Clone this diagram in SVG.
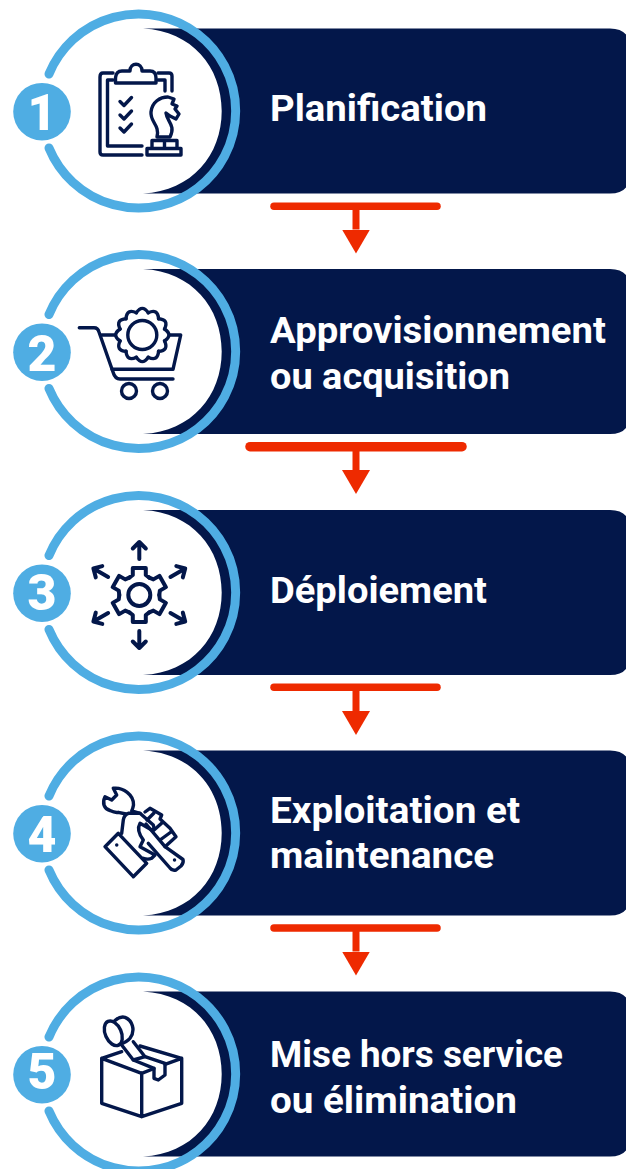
<svg xmlns="http://www.w3.org/2000/svg" width="626" height="1169" viewBox="0 0 626 1169">
<style>
.bar{fill:#03174a}
.ring{fill:none;stroke:#4fade3;stroke-width:9;stroke-linecap:round}
.dot{fill:#4fade3}
.num{font-family:"Roboto","Liberation Sans",sans-serif;font-weight:900;font-size:50px;fill:#fff;text-anchor:middle}
.lbl{font-family:"Roboto","Liberation Sans",sans-serif;font-weight:700;font-size:37px;fill:#fff}
.ic{fill:none;stroke:#03174a;stroke-width:3.4;stroke-linecap:round;stroke-linejoin:round}
.ic3{stroke-width:4}
.rule{stroke:#ee2a00;stroke-width:7.5;stroke-linecap:round}
.rule2{stroke:#ee2a00;stroke-width:9.5;stroke-linecap:round}
.stem{stroke:#ee2a00;stroke-width:7;marker-end:url(#head)}
</style>
<defs>
<marker id="head" markerUnits="userSpaceOnUse" markerWidth="24" markerHeight="28" refX="0" refY="14" orient="auto"><path d="M0 0L24 14L0 28Z" fill="#ee2a00"/></marker>
<g id="base">
<path class="bar" d="M143 -82.5H610Q630 -82.5 630 -62.5V62.5Q630 82.5 610 82.5H143C192 80 221.7 44 221.7 0C221.7 -44 192 -80 143 -82.5Z"/>
<path class="ring" d="M49 -37A97 97 0 1 1 49 37"/>
<circle class="dot" cx="42" cy="0.7" r="28.8"/>
</g>
<path id="tooth12" d="M-6 -22.2Q0 -31 6 -22.2"/>
<path id="tooth6" d="M-10 -17.3L-6.5 -20L-6.5 -27L6.5 -27L6.5 -20L10 -17.3"/>
<path id="arr" d="M0 -36V-53M-6.5 -46.5L0 -53L6.5 -46.5"/>
<g id="gear12"><use href="#tooth12"/><use href="#tooth12" transform="rotate(30)"/><use href="#tooth12" transform="rotate(60)"/><use href="#tooth12" transform="rotate(90)"/><use href="#tooth12" transform="rotate(120)"/><use href="#tooth12" transform="rotate(150)"/><use href="#tooth12" transform="rotate(180)"/><use href="#tooth12" transform="rotate(210)"/><use href="#tooth12" transform="rotate(240)"/><use href="#tooth12" transform="rotate(270)"/><use href="#tooth12" transform="rotate(300)"/><use href="#tooth12" transform="rotate(330)"/></g>
</defs>
<rect width="626" height="1169" fill="#fff"/>

<g id="connectors">
<line class="rule" x1="274" y1="206.3" x2="437" y2="206.3"/><line class="stem" x1="356" y1="206" x2="356" y2="229.5"/>
<line class="rule2" x1="250" y1="446.7" x2="462" y2="446.7"/><line class="stem" x1="356" y1="447" x2="356" y2="470"/>
<line class="rule" x1="274" y1="687.3" x2="437" y2="687.3"/><line class="stem" x1="356" y1="687" x2="356" y2="711"/>
<line class="rule" x1="274" y1="928" x2="437" y2="928"/><line class="stem" x1="356" y1="928" x2="356" y2="951.5"/>
</g>

<g id="node-1">
<use href="#base" y="111"/>
<text class="num" x="42" y="129.5">1</text>
<text class="lbl" x="270" y="121" textLength="217" lengthAdjust="spacingAndGlyphs">Planification</text>
<g class="ic">
<path d="M113 73H103Q100 73 100 77V152Q100 155 103 155H142"/>
<path d="M113 80H107.5V146H142"/>
<path d="M158 73H169Q172 73 172 76V91M158 80H165V91"/>
<path d="M115.5 83V78Q116 71 122 71H130C130 62 142 62 142 71H150Q156 71 156 78V83Z"/>
<path d="M120 101.5L124 105.5L131.5 97.5M120 115L124 119L131.5 111M120 128L124 132L131.5 124"/>
<path d="M147 155V148.5H181V155ZM152 148.5V140.5H177V148.5M164.5 140.5V148.5"/>
<path d="M157 137C160 125 150 122 151 112C152 102 160 97 168 97L174 99L172 104L177 106L175 109L179 114L176 119L170 116L166 113C167 122 176 125 170 137Z"/>
</g>
</g>

<g id="node-2">
<use href="#base" y="351.5"/>
<text class="num" x="42" y="370.7">2</text>
<text class="lbl" x="270" y="343" textLength="336" lengthAdjust="spacingAndGlyphs">Approvisionnement</text>
<text class="lbl" x="270" y="389" textLength="240" lengthAdjust="spacingAndGlyphs">ou acquisition</text>
<g class="ic">
<path d="M79.3 327.7H94Q98 327.7 99 332L113 372Q115 379 120 379H173"/>
<path d="M101.7 335H115M170 335H180.7L173 369.3H112"/>
<circle cx="129" cy="391" r="7.5"/><circle cx="160" cy="391" r="7.5"/>
<circle cx="142.3" cy="335" r="14.5"/>
<use href="#gear12" x="142.3" y="335"/>
</g>
</g>

<g id="node-3">
<use href="#base" y="592.5"/>
<text class="num" x="42" y="610">3</text>
<text class="lbl" x="270" y="603" textLength="217" lengthAdjust="spacingAndGlyphs">Déploiement</text>
<g class="ic ic3" transform="translate(139.3 595)">
<circle r="11"/>
<use href="#tooth6"/><use href="#tooth6" transform="rotate(60)"/><use href="#tooth6" transform="rotate(120)"/><use href="#tooth6" transform="rotate(180)"/><use href="#tooth6" transform="rotate(240)"/><use href="#tooth6" transform="rotate(300)"/>
<use href="#arr"/><use href="#arr" transform="rotate(60)"/><use href="#arr" transform="rotate(120)"/><use href="#arr" transform="rotate(180)"/><use href="#arr" transform="rotate(240)"/><use href="#arr" transform="rotate(300)"/>
</g>
</g>

<g id="node-4">
<use href="#base" y="833"/>
<text class="num" x="42" y="851.7">4</text>
<text class="lbl" x="270" y="823" textLength="250" lengthAdjust="spacingAndGlyphs">Exploitation et</text>
<text class="lbl" x="270" y="868" textLength="224" lengthAdjust="spacingAndGlyphs">maintenance</text>
<g class="ic">
<path d="M113.3 788.3C123 787 134 795 133.5 805Q133 808 131.7 811L140 813.3M113.3 788.3L116.7 795L111.7 800L105 796.7C102 803 104 809 110 810.5Q115 813 118.3 812.3L126 814"/>
<path d="M105 846.7L118.3 833.3L146.7 863.3L133.3 876.7ZM116.7 845h.1"/>
<path d="M121.7 833.3L123.3 820Q124 815 128.3 813.3L140 813.3L153.3 825Q155 830 151.7 830L140 823.3Q136 830 143.3 840L140 846.7L155 855L151.7 858.3Q148 860 143.3 858.3"/>
<path d="M145 812L150 808.3L161.7 815L160 819L170 828.3L176 836.7L165 846.7L146 824M154 813L147 820M163 822L154 830M171 832L160 840"/>
<path d="M165 846.7L183 859.5Q184 863 181 866L176 870Q172 871 170 868L148.3 843.3M174.5 860h.1"/>
</g>
</g>

<g id="node-5">
<use href="#base" y="1074"/>
<text class="num" x="42" y="1089">5</text>
<text class="lbl" x="270" y="1067" textLength="293" lengthAdjust="spacingAndGlyphs">Mise hors service</text>
<text class="lbl" x="270" y="1113" textLength="247" lengthAdjust="spacingAndGlyphs">ou élimination</text>
<g class="ic">
<path d="M101.7 1058.3L121.7 1051.7M140 1046L181.7 1058.3V1103.3L141.7 1116.7L101.7 1103.3V1058.3L141.7 1073.3L154 1068.5M165 1064.3L181.7 1058.3M141.7 1073.3V1116.7"/>
<path d="M133.3 1060L154 1068.3V1078.3L158.3 1080L165 1075V1063.3L145 1056.7"/>
<ellipse cx="113.3" cy="1033.3" rx="8" ry="13" transform="rotate(-24 113.3 1033.3)"/>
<path d="M115 1020.5Q120 1016 125 1017.3C132 1020 136 1030 130 1038.3Q127 1042 120 1044.5"/>
<path d="M121.7 1045L133.3 1060L145 1056.7L133.3 1041.7"/>
</g>
</g>
</svg>
